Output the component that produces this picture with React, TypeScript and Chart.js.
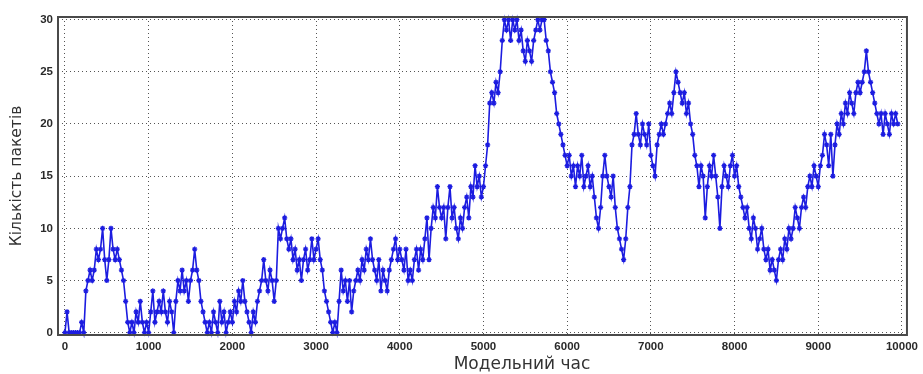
import React, { useEffect, useRef } from "react";
import { Chart, registerables } from "chart.js";

Chart.register(...registerables);

// One recorded value every 25 model-time units, starting at 0
const SAMPLE_STEP = 25;

// Packet count (20 samples per 500 time units)
const packets0000: number[] = [0, 2, 0, 0, 0, 0, 0, 0, 1, 0, 4, 5, 6, 5, 6, 8, 7, 8, 10, 7];
const packets0500: number[] = [5, 7, 10, 8, 7, 8, 7, 6, 5, 3, 1, 0, 1, 0, 2, 1, 3, 1, 0, 1];
const packets1000: number[] = [0, 2, 4, 1, 2, 3, 2, 4, 2, 1, 3, 2, 0, 3, 5, 4, 6, 4, 5, 3];
const packets1500: number[] = [5, 6, 8, 6, 5, 3, 2, 1, 0, 1, 0, 2, 1, 0, 3, 1, 2, 0, 1, 2];
const packets2000: number[] = [1, 3, 2, 4, 3, 5, 3, 2, 1, 0, 2, 1, 3, 4, 5, 7, 5, 4, 6, 5];
const packets2500: number[] = [3, 5, 10, 9, 10, 11, 9, 8, 9, 7, 8, 6, 7, 5, 7, 8, 6, 7, 9, 7];
const packets3000: number[] = [8, 9, 7, 6, 4, 3, 2, 1, 0, 1, 0, 3, 6, 4, 5, 3, 5, 2, 4, 5];
const packets3500: number[] = [6, 5, 7, 6, 8, 7, 9, 7, 6, 5, 7, 4, 6, 5, 4, 6, 7, 8, 9, 7];
const packets4000: number[] = [8, 7, 6, 8, 5, 6, 5, 7, 8, 6, 8, 7, 9, 11, 7, 10, 12, 11, 14, 12];
const packets4500: number[] = [11, 12, 9, 12, 14, 11, 12, 10, 9, 11, 10, 12, 13, 11, 14, 13, 16, 14, 15, 13];
const packets5000: number[] = [14, 16, 18, 22, 23, 22, 24, 23, 25, 28, 30, 29, 30, 28, 30, 29, 30, 28, 29, 27];
const packets5500: number[] = [26, 28, 27, 26, 28, 29, 30, 29, 30, 30, 28, 27, 25, 24, 23, 21, 20, 19, 18, 17];
const packets6000: number[] = [16, 17, 15, 16, 14, 16, 15, 17, 14, 15, 16, 14, 15, 13, 11, 10, 12, 15, 17, 15];
const packets6500: number[] = [14, 13, 15, 12, 10, 9, 8, 7, 9, 12, 14, 18, 19, 21, 19, 18, 20, 19, 18, 20];
const packets7000: number[] = [17, 16, 15, 18, 19, 20, 19, 20, 21, 22, 21, 23, 25, 24, 23, 22, 23, 21, 22, 20];
const packets7500: number[] = [19, 17, 16, 14, 16, 15, 11, 14, 16, 15, 17, 15, 13, 10, 14, 16, 15, 14, 16, 17];
const packets8000: number[] = [15, 16, 14, 13, 12, 11, 12, 10, 9, 11, 10, 8, 9, 10, 8, 7, 8, 6, 7, 6];
const packets8500: number[] = [5, 7, 8, 7, 9, 8, 10, 9, 10, 12, 11, 10, 12, 13, 12, 14, 15, 14, 16, 15];
const packets9000: number[] = [14, 16, 17, 19, 18, 16, 19, 15, 18, 20, 19, 21, 20, 22, 21, 23, 22, 21, 23, 24];
const packets9500: number[] = [23, 24, 25, 27, 25, 24, 23, 22, 21, 20, 21, 19, 21, 20, 19, 21, 20, 21, 20];

const packets: number[] = [
  ...packets0000, ...packets0500, ...packets1000, ...packets1500,
  ...packets2000, ...packets2500, ...packets3000, ...packets3500,
  ...packets4000, ...packets4500, ...packets5000, ...packets5500,
  ...packets6000, ...packets6500, ...packets7000, ...packets7500,
  ...packets8000, ...packets8500, ...packets9000, ...packets9500,
];

const xTicks: number[] = [0, 1000, 2000, 3000, 4000, 5000, 6000, 7000, 8000, 9000, 10000];
const yTicks: number[] = [0, 5, 10, 15, 20, 25, 30];

const xTitle = "Модельний час";
const yTitle = "Кількість пакетів";

export default function App() {
  const canvasRef = useRef<HTMLCanvasElement | null>(null);

  useEffect(() => {
    const canvas = canvasRef.current;
    if (!canvas) return;

    const points = packets.map((v, i) => ({ x: i * SAMPLE_STEP, y: v }));

    const framePlugin = {
      id: "frameAndTitles",
      afterDraw(chart: any) {
        const { ctx, chartArea } = chart;
        const { left, right, top, bottom } = chartArea;
        ctx.save();
        ctx.strokeStyle = "#4a4a4a";
        ctx.lineWidth = 2;
        ctx.strokeRect(left, top, right - left, bottom - top);

        ctx.fillStyle = "#333";
        ctx.textAlign = "center";
        ctx.textBaseline = "middle";
        ctx.font = "17px 'DejaVu Sans'";
        ctx.fillText(xTitle, 522, 365);

        ctx.translate(17, 176);
        ctx.rotate(-Math.PI / 2);
        ctx.font = "15.5px 'DejaVu Sans'";
        ctx.fillText(yTitle, 0, 0);
        ctx.restore();
      },
    };

    const tickFont = { family: "'Liberation Sans'", size: 11.5, weight: "bold" };

    const chart = new Chart(canvas, {
      type: "line",
      data: {
        datasets: [
          {
            data: points,
            borderColor: "#1c1ce0",
            backgroundColor: "#1c1ce0",
            borderWidth: 1.6,
            pointRadius: 2.6,
            pointStyle: "star",
            pointBorderColor: "#1c1ce0",
            pointBorderWidth: 1.3,
            tension: 0,
            clip: 3,
          },
        ],
      },
      options: {
        responsive: false,
        animation: false,
        events: [],
        layout: { padding: { top: 17, right: 12, left: 0, bottom: 0 } },
        plugins: {
          legend: { display: false },
          tooltip: { enabled: false },
        },
        scales: {
          x: {
            type: "linear",
            min: -83,
            max: 10060,
            afterBuildTicks: (scale: any) => {
              scale.ticks = xTicks.map((v) => ({ value: v }));
            },
            afterFit: (scale: any) => {
              scale.height = 39;
            },
            ticks: {
              padding: 5,
              color: "#2a2a2a",
              font: tickFont,
              maxRotation: 0,
              autoSkip: false,
              callback: (v: any) => String(v),
            },
            grid: {
              color: "#555",
              lineWidth: 1,
              drawTicks: false,
            },
            border: { display: false, dash: [1, 3] },
          },
          y: {
            type: "linear",
            min: -0.22,
            max: 30.25,
            afterBuildTicks: (scale: any) => {
              scale.ticks = yTicks.map((v) => ({ value: v }));
            },
            afterFit: (scale: any) => {
              scale.width = 58;
            },
            ticks: {
              padding: 5,
              color: "#2a2a2a",
              font: tickFont,
              callback: (v: any) => String(v),
            },
            grid: {
              color: "#555",
              lineWidth: 1,
              drawTicks: false,
            },
            border: { display: false, dash: [1, 3] },
          },
        },
      },
      plugins: [framePlugin],
    } as any);

    return () => {
      chart.destroy();
    };
  }, []);

  return (
    <div style={{ position: "fixed", left: 0, top: 0, width: 923, height: 374, background: "#fff" }}>
      <canvas ref={canvasRef} width={923} height={374} style={{ display: "block" }} />
    </div>
  );
}
